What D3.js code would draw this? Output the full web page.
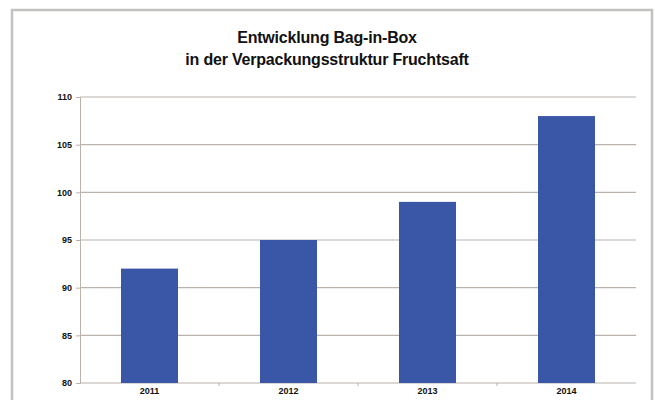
<!DOCTYPE html>
<html>
<head>
<meta charset="utf-8">
<script src="https://cdn.jsdelivr.net/npm/d3@7"></script>
<style>
  body { margin: 0; background: #fff; }
  text { font-family: "Liberation Sans", Arial, Helvetica, sans-serif; font-weight: bold; fill: #111; }
</style>
</head>
<body>
<svg id="chart" width="655" height="400"></svg>
<script>
// data
var years = ["2011", "2012", "2013", "2014"];
var values = [92, 95, 99, 108];
var yTicks = [80, 85, 90, 95, 100, 105, 110];
var titleLines = ["Entwicklung Bag-in-Box", "in der Verpackungsstruktur Fruchtsaft"];

var svg = d3.select("#chart");

// frame
svg.append("rect")
    .attr("x", 12).attr("y", 10)
    .attr("width", 640).attr("height", 400)
    .attr("fill", "#fff")
    .attr("stroke", "#c4c2c0")
    .attr("stroke-width", 2.5);

// title
svg.selectAll(".title")
    .data(titleLines)
    .enter()
    .append("text")
    .attr("class", "title")
    .attr("x", 327)
    .attr("y", function (d, i) { return 43 + i * 22; })
    .attr("text-anchor", "middle")
    .style("font-size", "16px")
    .style("letter-spacing", "-0.2px")
    .text(function (d) { return d; });

var pLeft = 80, pRight = 636, pTop = 97, pBottom = 383;

var x = d3.scaleBand().domain(years).range([pLeft, pRight]).paddingInner(0.59).paddingOuter(0.295);
var y = d3.scaleLinear().domain([80, 110]).range([pBottom, pTop]);

// gridlines
svg.append("g")
    .selectAll("line")
    .data(yTicks)
    .enter()
    .append("line")
    .attr("x1", pLeft).attr("x2", pRight)
    .attr("y1", function (d) { return y(d); })
    .attr("y2", function (d) { return y(d); })
    .attr("stroke", "#bab2ac")
    .attr("stroke-width", 1.2);

// y axis
var yAxis = svg.append("g")
    .attr("transform", "translate(" + pLeft + ",0)")
    .call(d3.axisLeft(y).tickValues(yTicks).tickSize(4).tickPadding(4));
yAxis.select(".domain").attr("stroke", "#bab2ac");
yAxis.selectAll(".tick line").attr("stroke", "#bab2ac");
yAxis.selectAll("text").style("font-size", "9px").attr("fill", "#222");

// bars
svg.selectAll(".bar")
    .data(values)
    .enter()
    .append("rect")
    .attr("class", "bar")
    .attr("x", function (d, i) { return x(years[i]); })
    .attr("width", x.bandwidth())
    .attr("y", function (d) { return y(d); })
    .attr("height", function (d) { return pBottom - y(d); })
    .attr("fill", "#3a56a6");

// x axis
var xAxis = svg.append("g")
    .attr("transform", "translate(0," + pBottom + ")")
    .call(d3.axisBottom(x).tickSize(0).tickPadding(5));
xAxis.select(".domain").remove();
xAxis.selectAll("text").style("font-size", "9px").attr("fill", "#222");

// small tick marks between categories
var step = x.step();
svg.append("g")
    .selectAll("line")
    .data(years.slice(1))
    .enter()
    .append("line")
    .attr("x1", function (d) { return x(d) - step * 0.295; })
    .attr("x2", function (d) { return x(d) - step * 0.295; })
    .attr("y1", pBottom).attr("y2", pBottom + 3)
    .attr("stroke", "#bab2ac");
</script>
</body>
</html>
